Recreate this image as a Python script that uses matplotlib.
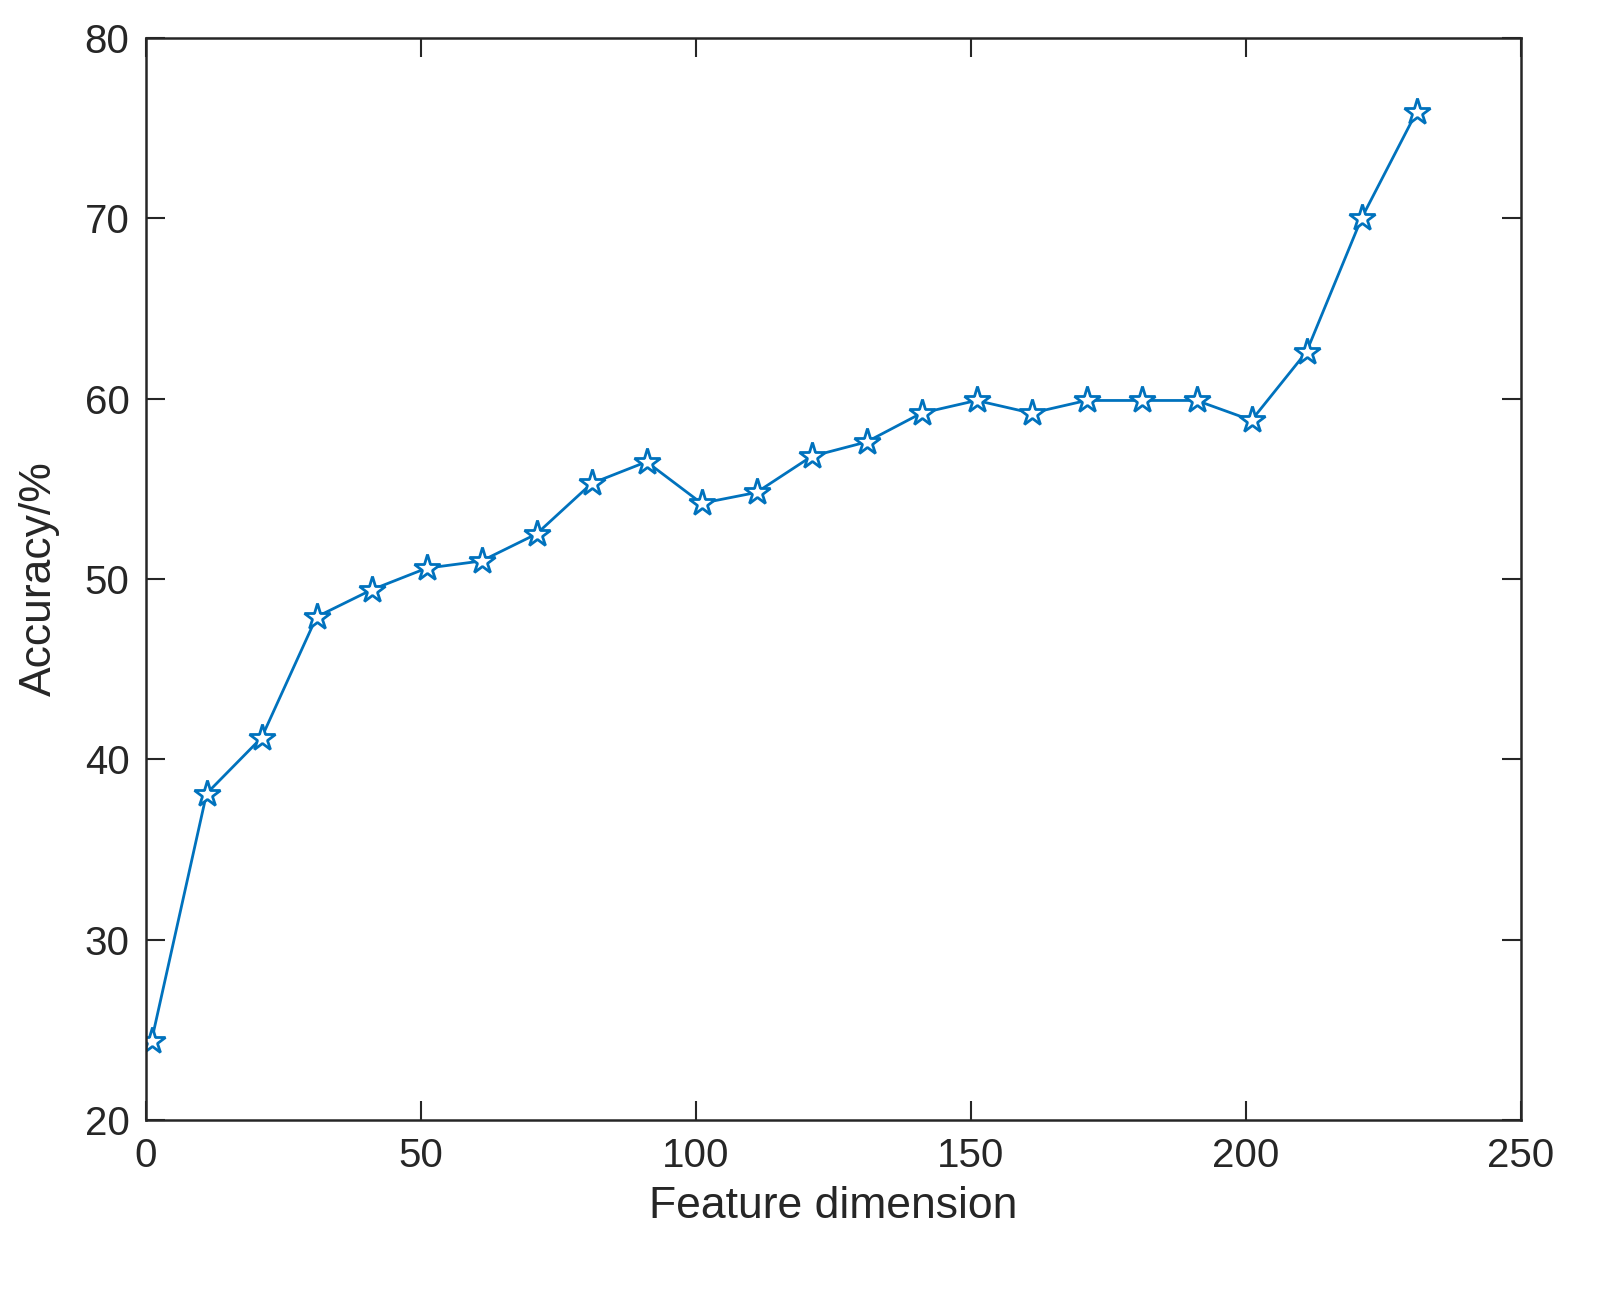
import matplotlib
matplotlib.use("Agg")
import matplotlib.pyplot as plt

dims = [1, 11, 21, 31, 41, 51, 61, 71, 81, 91, 101, 111, 121, 131, 141, 151, 161, 171, 181, 191, 201, 211, 221, 231]
acc = [24.4, 38.1, 41.2, 47.9, 49.4, 50.6, 51.0, 52.5, 55.3, 56.5, 54.2, 54.8, 56.8, 57.6, 59.2, 59.9, 59.2, 59.9, 59.9, 59.9, 58.8, 62.6, 70.0, 75.9]
xticks = [0, 50, 100, 150, 200, 250]
yticks = [20, 30, 40, 50, 60, 70, 80]

plt.rcParams['font.family'] = ['Liberation Sans', 'DejaVu Sans']
fig = plt.figure(figsize=(16.07, 12.92), dpi=100)
ax = fig.add_axes([0.0909, 0.1331, 0.8556, 0.8375])
ax.plot(dims, acc, color='#0072BD', lw=2, marker='*', markersize=20,
        markerfacecolor='white', markeredgecolor='#0072BD', markeredgewidth=2)
ax.set_xlim(0, 250)
ax.set_ylim(20, 80)
ax.set_xticks(xticks)
ax.set_yticks(yticks)
ax.tick_params(direction='in', top=True, right=True, labelsize=29, length=14, width=1.5, pad=12, colors='#262626')
for s in ax.spines.values():
    s.set_linewidth(1.8)
    s.set_color('#262626')
ax.set_xlabel('Feature dimension', fontsize=32, color='#262626', labelpad=8)
ax.set_ylabel('Accuracy/%', fontsize=32, color='#262626', labelpad=18)
fig.savefig('out.png', dpi=100)
